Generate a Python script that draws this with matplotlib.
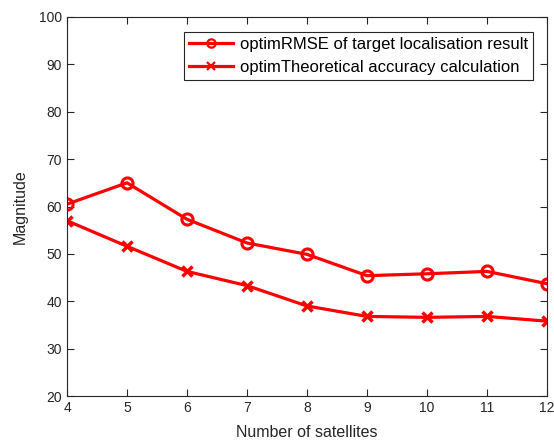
import numpy as np
import matplotlib
matplotlib.use('Agg')
import matplotlib.pyplot as plt

plt.rcParams['font.family'] = ['Liberation Sans', 'DejaVu Sans']

# data
n_sats = [4, 5, 6, 7, 8, 9, 10, 11, 12]
rmse = [60.5, 65.0, 57.3, 52.3, 49.9, 45.4, 45.8, 46.3, 43.7]
theory = [57.0, 51.6, 46.3, 43.3, 39.0, 36.8, 36.6, 36.8, 35.8]

fig = plt.figure(figsize=(5.54, 4.42), dpi=100)
ax = fig.add_axes([67/554, 46/442, 480/554, 379/442])

ax.plot(n_sats, rmse, color='red', lw=2.3, marker='o', ms=8, mfc='none', mew=2.2,
        label="optimRMSE of target localisation result")
ax.plot(n_sats, theory, color='red', lw=2.3, marker='x', ms=7, mew=2.5,
        label="optimTheoretical accuracy calculation")

ax.set_xlim(4, 12)
ax.set_ylim(20, 100)
ax.set_xticks(np.arange(4, 13, 1))
ax.set_yticks(np.arange(20, 101, 10))
ax.tick_params(direction='in', top=True, right=True, labelsize=10, colors='#262626', length=5)
for s in ax.spines.values():
    s.set_color('#262626')
    s.set_linewidth(0.8)

ax.set_xlabel("Number of satellites", fontsize=11.5, color='#262626', labelpad=7)
ax.set_ylabel("Magnitude", fontsize=11.5, color='#262626', labelpad=8)

leg = ax.legend(loc='upper right', bbox_to_anchor=(0.971, 0.960), borderaxespad=0,
                fontsize=12, fancybox=False, edgecolor='#262626', framealpha=1,
                handlelength=2.64, borderpad=0.3, labelspacing=0.45, markerscale=0.75,
                handletextpad=0.42)
leg.get_frame().set_linewidth(0.8)
for h in leg.legend_handles:
    h.set_markeredgewidth(1.6)

plt.savefig("out.png", dpi=100)
plt.close()
